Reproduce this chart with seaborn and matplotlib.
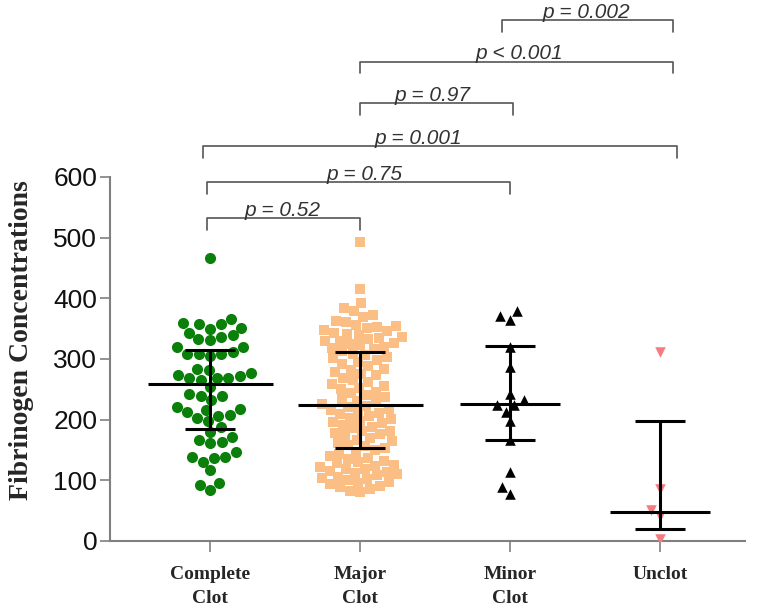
import numpy as np
import pandas as pd
import matplotlib
matplotlib.use("Agg")
import matplotlib.pyplot as plt
import seaborn as sns

# ---------------- data ----------------
categories = ["Complete\nClot", "Major\nClot", "Minor\nClot", "Unclot"]

complete_clot = [467, 366, 350, 343, 359, 357, 351, 357, 339, 337, 333, 331,
                 309, 309, 320, 305, 319, 309, 312, 282, 283, 269, 265, 272,
                 273, 269, 277, 269, 254, 243, 239, 232, 239, 221, 206, 208,
                 213, 202, 216, 198, 217, 188, 180, 161, 164, 166, 172, 139,
                 131, 136, 139, 146, 117, 96, 93, 84]

major_clot = [493, 415, 392, 384, 379,
              373, 369, 363, 361, 356, 354,
              352, 351, 347, 346, 343, 341, 340, 337, 335,
              333, 330, 329, 326, 325, 323, 320, 318, 316,
              313, 309, 307, 303, 301, 298, 295,
              292, 289, 284, 282, 279, 276,
              273, 268, 266, 262, 258, 256,
              253, 251, 246, 244, 240, 237,
              234, 231, 229, 226, 223, 221, 218, 216,
              214, 211, 209, 206, 203, 201, 198, 196,
              194, 191, 188, 186, 182, 181, 178, 176,
              174, 170, 167, 165, 161, 158, 156,
              153, 150, 147, 144, 140, 137,
              135, 132, 131, 128, 126, 124, 122, 119, 118, 116,
              114, 112, 110, 108, 106, 104, 102, 100, 98, 96,
              94, 91, 89, 86, 83, 80]

minor_clot = [371, 379, 365, 320, 287, 242, 224, 232, 224, 213, 197, 166,
              114, 89, 77]

unclot = [312, 85, 51, 41, 3]

center_vals = [259, 224, 226, 48]
lower_vals = [185, 153, 167, 20]
upper_vals = [315, 311, 322, 197]

comparisons = [(0, 1, "p = 0.52"), (0, 2, "p = 0.75"), (0, 3, "p = 0.001"),
               (1, 2, "p = 0.97"), (1, 3, "p < 0.001"), (2, 3, "p = 0.002")]

# ---------------- layout / style ----------------
groups = [complete_clot, major_clot, minor_clot, unclot]
colors = ["#0a800a", "#fbbf85", "#000000", "#f47c80"]
markers = ["o", "s", "^", "v"]
sizes = [8.0, 7.2, 7.6, 7.6]
center_w = [0.833, 0.833, 0.667, 0.667]
cap_w = 0.333

# bracket geometry (x ends, line level, text x)
bracket_geom = [(-0.022, 1.0, 532, 0.483), (-0.022, 2.0, 591, 1.027),
                (-0.049, 3.11, 651, 1.387), (1.0, 2.02, 722, 1.483),
                (1.0, 3.085, 790, 2.06), (1.945, 3.085, 858, 2.511)]

sns.set_style("white")
plt.rcParams["font.family"] = ["Liberation Sans", "DejaVu Sans"]

fig = plt.figure(figsize=(7.65, 6.08), dpi=100)
ax = fig.add_axes([0.1438, 0.1102, 0.8302, 0.5987])

for cat, vals, c, m, s in zip(categories, groups, colors, markers, sizes):
    df = pd.DataFrame({"group": [cat] * len(vals), "value": vals})
    sns.swarmplot(data=df, x="group", y="value", order=categories, color=c,
                  marker=m, size=s, linewidth=0, ax=ax, warn_thresh=1.0)

for i in range(len(categories)):
    ax.hlines(center_vals[i], i - center_w[i] / 2, i + center_w[i] / 2,
              color="black", lw=2.2, zorder=5)
    ax.hlines([lower_vals[i], upper_vals[i]], i - cap_w / 2, i + cap_w / 2,
              color="black", lw=2.2, zorder=5)
    ax.vlines(i, lower_vals[i], upper_vals[i], color="black", lw=2.2, zorder=5)

for (a, b, label), (x1, x2, yl, xt) in zip(comparisons, bracket_geom):
    ax.plot([x1, x1, x2, x2], [yl - 19, yl, yl, yl - 19], color="#555555",
            lw=1.2, clip_on=False)
    ax.text(xt, yl + 4, label, ha="center", va="baseline", style="italic",
            fontsize=15, color="#333333", clip_on=False)

ax.set_xlim(-0.667, 3.567)
ax.set_ylim(0, 600)
ax.set_yticks([0, 100, 200, 300, 400, 500, 600])
ax.set_xticks(range(len(categories)))
ax.set_xticklabels(categories, fontfamily="Liberation Serif",
                   fontweight="bold", fontsize=14, linespacing=1.55)
ax.set_xlabel("")
ax.set_ylabel("")
for lab in ax.get_yticklabels():
    lab.set_fontsize(19)
    lab.set_color("#111111")

for side in ["top", "right"]:
    ax.spines[side].set_visible(False)
for side in ["left", "bottom"]:
    ax.spines[side].set_color("#808080")
    ax.spines[side].set_linewidth(1.5)

ax.tick_params(axis="y", length=7.2, width=1.2, color="#808080", pad=2, left=True)
ax.tick_params(axis="x", length=8, width=1.2, color="#808080", pad=10, bottom=True)

fig.text(22 / 765, 1 - 340 / 608, "Fibrinogen Concentrations", rotation=90,
         ha="center", va="center", fontfamily="Liberation Serif",
         fontweight="bold", fontsize=20)

fig.savefig("out.png", dpi=100)
